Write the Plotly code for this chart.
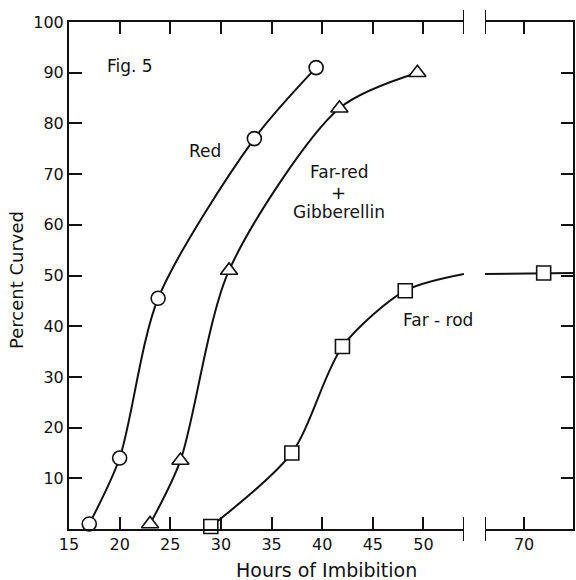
import plotly.graph_objects as go

# ---- data ----
red_x = [17, 20, 23.8, 33.3, 39.4]
red_y = [1, 14, 45.5, 77, 91]

frg_x = [23, 26, 30.8, 41.7, 49.4]
frg_y = [1, 13.5, 51, 83, 90]

fr_x = [29, 37, 42, 48.2]
fr_y = [0.5, 15, 36, 47]
fr_curve_x = [29, 37, 42, 48.2, 54]          # curve continues to axis break
fr_curve_y = [0.5, 15, 36, 47, 50.3]
fr2_x = [72]
fr2_y = [50.5]
fr2_curve_x = [66, 72, 75]
fr2_curve_y = [50.3, 50.5, 50.5]

x1_ticks = [15, 20, 25, 30, 35, 40, 45, 50]
x2_ticks = [70]
y_ticks = [10, 20, 30, 40, 50, 60, 70, 80, 90, 100]

# ---- geometry helpers ----
W, H = 576, 580
L, R, T, B = 69, 3, 22, 51
PW, PH = W - L - R, H - T - B


def px(x):
    return (x - L) / PW


def py(y):
    return (H - B - y) / PH


INK = "#111111"
FONT = "DejaVu Sans"

fig = go.Figure()

line_style = dict(color=INK, width=2, shape="spline", smoothing=0.8)
mk = dict(size=14, color="white", line=dict(color=INK, width=1.6))

fig.add_trace(go.Scatter(x=red_x, y=red_y, mode="lines+markers", line=line_style,
                         marker=dict(symbol="circle", **mk), cliponaxis=False,
                         xaxis="x", yaxis="y", showlegend=False))
fig.add_trace(go.Scatter(x=frg_x, y=frg_y, mode="lines+markers", line=line_style,
                         marker=dict(symbol="triangle-up", size=15, color="white",
                                     line=dict(color=INK, width=1.6)),
                         cliponaxis=False, xaxis="x", yaxis="y", showlegend=False))
fig.add_trace(go.Scatter(x=fr_curve_x, y=fr_curve_y, mode="lines", line=line_style,
                         cliponaxis=False, xaxis="x", yaxis="y", showlegend=False))
fig.add_trace(go.Scatter(x=fr_x, y=fr_y, mode="markers",
                         marker=dict(symbol="square", **mk), cliponaxis=False,
                         xaxis="x", yaxis="y", showlegend=False))
fig.add_trace(go.Scatter(x=fr2_curve_x, y=fr2_curve_y, mode="lines",
                         line=dict(color=INK, width=2), cliponaxis=False,
                         xaxis="x2", yaxis="y2", showlegend=False))
fig.add_trace(go.Scatter(x=fr2_x, y=fr2_y, mode="markers",
                         marker=dict(symbol="square", **mk), cliponaxis=False,
                         xaxis="x2", yaxis="y2", showlegend=False))

tickfont = dict(family=FONT, size=16, color=INK)
common_x = dict(showline=True, linecolor=INK, linewidth=2, ticks="inside", ticklen=12,
                tickwidth=1.5, tickcolor=INK, mirror="ticks", showgrid=False,
                zeroline=False, tickfont=tickfont)

d1 = px(464)
d2 = px(485)

fig.update_layout(
    width=W, height=H,
    margin=dict(l=L, r=R, t=T, b=B),
    paper_bgcolor="white", plot_bgcolor="white",
    font=dict(family=FONT, color=INK),
    xaxis=dict(domain=[0, d1], range=[15, 54], tickvals=x1_ticks,
               ticktext=[str(v) for v in x1_ticks], anchor="y", **common_x),
    xaxis2=dict(domain=[d2, 1], range=[66, 75], tickvals=x2_ticks,
                ticktext=[str(v) for v in x2_ticks], anchor="y2", **common_x),
    yaxis=dict(domain=[0, 1], range=[0, 100], tickvals=y_ticks,
               ticktext=[str(v) for v in y_ticks], anchor="x", showline=True,
               linecolor=INK, linewidth=2, ticks="inside", ticklen=13, tickwidth=1.5,
               tickcolor=INK, mirror=False, showgrid=False, zeroline=False,
               tickfont=tickfont),
    yaxis2=dict(domain=[0, 1], range=[0, 100], tickvals=y_ticks, anchor="x2",
                side="right", showline=True, linecolor=INK, linewidth=2,
                ticks="inside", ticklen=12, tickwidth=1.5, tickcolor=INK,
                showticklabels=False, showgrid=False, zeroline=False, matches="y"),
)

# axis break marks
brk = 12 / PH
for xr, xv in (("x", 54), ("x2", 66)):
    for yc in (0, 1):
        fig.add_shape(type="line", xref=xr, yref="paper", x0=xv, x1=xv,
                      y0=yc - brk, y1=yc + brk, line=dict(color=INK, width=2))

ann = [
    ("Fig. 5", 130, 66, 17),
    ("Red", 205, 151, 17),
    ("Far-red", 339, 172, 17),
    ("+", 338, 192, 18),
    ("Gibberellin", 339, 212, 17),
    ("Far - rod", 438, 320, 17),
]
for text, x, y, s in ann:
    fig.add_annotation(text=text, xref="paper", yref="paper", x=px(x), y=py(y),
                       showarrow=False, font=dict(family=FONT, size=s, color=INK),
                       xanchor="center", yanchor="middle")

fig.add_annotation(text="Hours of Imbibition", xref="paper", yref="paper",
                   x=px(326), y=py(570), showarrow=False,
                   font=dict(family=FONT, size=19, color=INK),
                   xanchor="center", yanchor="middle")
fig.add_annotation(text="Percent Curved", xref="paper", yref="paper",
                   x=px(17), y=py(280), showarrow=False, textangle=-90,
                   font=dict(family=FONT, size=18, color=INK),
                   xanchor="center", yanchor="middle")

fig.write_html("out.html", config={"displayModeBar": False},
               post_script="document.body.style.margin='0';")
